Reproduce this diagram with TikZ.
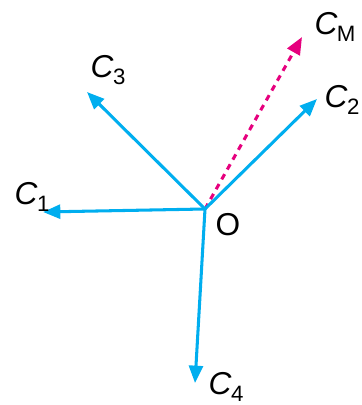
\documentclass[tikz,border=0pt]{standalone}
\usepackage{fontspec}
\setmainfont{Liberation Sans}
\usetikzlibrary{arrows.meta}
\definecolor{vecblue}{RGB}{0,174,239}
\definecolor{vecpink}{RGB}{230,0,126}
\newcommand{\vlabel}[1]{\textit{C}\kern-0.5pt\raisebox{-0.22em}{\fontsize{19}{22}\selectfont #1}}
\begin{document}
\begin{tikzpicture}[line width=2.6pt,
  vec/.style={draw=vecblue, -{Triangle[length=0.52cm,width=0.42cm]}},
  res/.style={draw=vecpink, dash pattern=on 0.18cm off 0.16cm, -{Triangle[length=0.52cm,width=0.42cm]}},
  lbl/.style={font=\fontsize{27}{30}\selectfont, inner sep=1pt}]
  \useasboundingbox (0,0) rectangle (10.86,12.15);
  \coordinate (O) at (6.15,5.88);
  \coordinate (c1) at (1.29,5.79);
  \coordinate (c2) at (9.51,9.18);
  \coordinate (c3) at (2.61,9.39);
  \coordinate (c4) at (5.85,0.66);
  \coordinate (cm) at (9.06,11.04);
  \draw[res] (O) -- (cm);
  \draw[vec] (O) -- (c1);
  \draw[vec] (O) -- (c2);
  \draw[vec] (O) -- (c3);
  \draw[vec] (O) -- (c4);
  \node[lbl] (l1) at (0.96,6.24) {\vlabel{1}};
  \node[lbl] (l2) at (10.26,9.15) {\vlabel{2}};
  \node[lbl] (l3) at (3.24,10.05) {\vlabel{3}};
  \node[lbl] (l4) at (6.78,0.54) {\vlabel{4}};
  \node[lbl] (lm) at (10.05,11.34) {\vlabel{M}};
  \node[lbl] (lo) at (6.84,5.40) {O};
\end{tikzpicture}
\end{document}
